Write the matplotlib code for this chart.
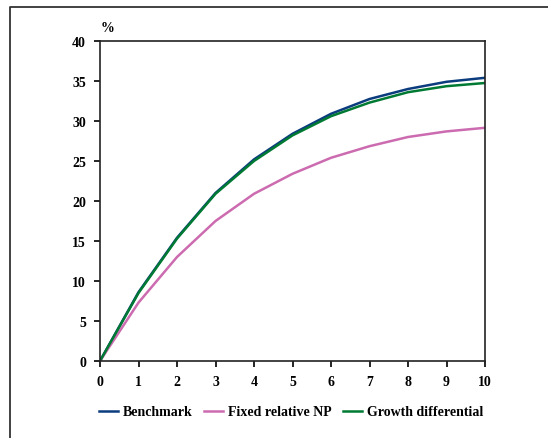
import numpy as np
import matplotlib.pyplot as plt
from matplotlib.lines import Line2D

plt.rcParams.update({
    'font.family': 'Liberation Serif',
    'font.weight': 'bold',
    'font.size': 10,
})

years = list(range(11))
benchmark = [0, 8.6, 15.4, 21.0, 25.2, 28.4, 30.9, 32.75, 34.0, 34.9, 35.4]
fixed_np = [0, 7.3, 13.0, 17.5, 20.9, 23.4, 25.4, 26.85, 28.0, 28.7, 29.15]
growth_diff = [0, 8.5, 15.3, 20.9, 25.0, 28.2, 30.6, 32.3, 33.6, 34.35, 34.75]

W, H = 548, 439
fig = plt.figure(figsize=(W / 100, H / 100), dpi=100)
ax = fig.add_axes([100 / W, 1 - 362 / H, 385 / W, 320 / H])

ax.plot(years, benchmark, color='#0b3c7d', lw=1.8, label='Benchmark')
ax.plot(years, fixed_np, color='#cc6bb0', lw=1.8, label='Fixed relative NP')
ax.plot(years, growth_diff, color='#007a33', lw=1.8, label='Growth differential')

ax.set_xlim(0, 10)
ax.set_ylim(0, 40)
ax.set_xticks(range(0, 11))
ax.set_yticks(range(0, 41, 5))
ax.tick_params(direction='out', length=4, width=1.2, pad=6)
for s in ax.spines.values():
    s.set_linewidth(1.2)
    s.set_color('#222222')

ax.text(107 / W, 1 - 28.5 / H, '%', transform=fig.transFigure, ha='center', va='center')

ax.legend(loc='center', bbox_to_anchor=(291 / W, 1 - 413 / H), bbox_transform=fig.transFigure,
          ncol=3, frameon=False, handlelength=1.4, handletextpad=0.35, columnspacing=0.8)

# frame around the figure (left and top edges)
fig.add_artist(Line2D([9.5 / W, 9.5 / W, 1], [0, 1 - 7.5 / H, 1 - 7.5 / H],
                      transform=fig.transFigure, color='#333333', lw=1.3))

fig.savefig('out.png', dpi=100)
